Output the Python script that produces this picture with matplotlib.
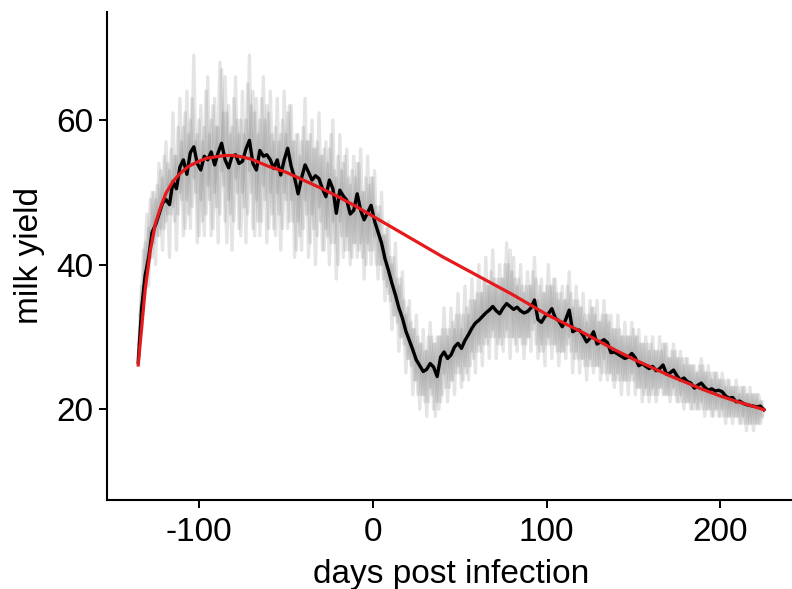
import numpy as np
import matplotlib
matplotlib.use("Agg")
import matplotlib.pyplot as plt

plt.rcParams['font.family'] = ['Liberation Sans', 'DejaVu Sans']
plt.rcParams['axes.unicode_minus'] = False

# curva ajustada (roja)
red_days = [-135, -131, -128, -125, -122, -119, -115, -111, -106, -101, -96, -91, -85,
            -80, -75, -70, -60, -50, -40, -30, -20, -10, 0, 10, 20, 30, 40, 50, 60, 70,
            80, 90, 100, 110, 120, 130, 140, 150, 160, 170, 180, 190, 200, 210, 220, 225]
red_vals = [26.1, 36.5, 42.0, 45.8, 48.0, 49.9, 51.5, 52.6, 53.6, 54.2, 54.7, 54.9, 55.1,
            55.1, 54.9, 54.6, 53.6, 52.8, 51.7, 50.6, 49.4, 48.1, 46.7, 45.3, 43.9, 42.5,
            41.1, 39.8, 38.5, 37.2, 35.9, 34.5, 33.1, 31.9, 30.7, 29.4, 28.1, 26.9, 25.8,
            24.7, 23.7, 22.7, 21.8, 21.0, 20.3, 19.9]

# media diaria (negra), dias impares -135..225
mean_days = np.arange(-135, 226, 2)
mean_vals = [26.5, 34, 38.5, 41, 44.5, 45.5, 47, 48.5, 49, 48.3,
             51.5, 50.5, 53.5, 54.5, 52.5, 55.5, 56.3, 54, 53.1, 55,
             54.5, 55.6, 53.8, 55.5, 56.8, 54.5, 53.4, 55, 55.2, 54,
             54.3, 56, 57.2, 54, 53.1, 55.8, 55, 55.2, 54.5, 53.3,
             54.5, 52.4, 54.5, 56.1, 53.6, 52, 49.8, 52, 53.8, 52.8,
             51.7, 52.3, 51.9, 50.5, 49.4, 51.7, 50.5, 47.1, 50.3, 49.5,
             48.9, 47, 47.5, 49.8, 47.5, 46.2, 47.2, 48.2, 46, 44.5,
             43, 40.8, 39.2, 37.4, 35.8, 34, 32.6, 30.8, 29.5, 28.2,
             26.8, 26, 25.2, 25.5, 26.3, 25.8, 24.5, 27.2, 27.9, 27,
             27.5, 28.6, 29.1, 28.4, 29.5, 30.3, 31.2, 31.9, 32.3, 32.8,
             33.3, 33.7, 34.2, 33.6, 33.2, 34, 34.6, 34.2, 33.8, 34.1,
             33.6, 33.3, 33.5, 34, 35.1, 32.4, 32, 32.8, 33.2, 33.9,
             32.6, 32.2, 31.4, 32.4, 33.7, 30.7, 31, 30.9, 30.2, 29.3,
             29.8, 30.7, 29, 29.3, 29.6, 29.2, 27.8, 27.9, 27.6, 27.3,
             27, 27.2, 27.7, 27.1, 26, 26.3, 25.9, 25.6, 25.9, 25.3,
             25.6, 26.1, 24.8, 25, 25.4, 24.6, 24, 24.3, 23.8, 23.6,
             22.9, 23.3, 23.6, 23, 22.6, 22.8, 22.5, 22.6, 22.4, 21.8,
             21.5, 21.6, 21, 21.1, 20.8, 20.6, 20.5, 20.4, 20.3, 20.4, 19.9]

# vacas individuales (gris)
cow_days_even = np.arange(-134, 225, 2)
cow_a = [31, 42, 39, 49, 43, 51, 45, 55, 47, 56,
         46, 59, 49, 61, 47, 63, 50, 60, 46, 64,
         49, 62, 48, 68, 51, 61, 47, 63, 50, 60,
         48, 65, 50, 61, 46, 63, 49, 61, 47, 59,
         47, 60, 49, 62, 46, 58, 44, 59, 47, 58,
         45, 57, 46, 56, 44, 58, 43, 55, 44, 55,
         42, 53, 43, 54, 41, 52, 42, 52, 40, 48,
         38, 45, 35, 41, 32, 38, 29, 34, 26, 31,
         22, 29, 21, 30, 22, 29, 20, 31, 23, 31,
         24, 33, 25, 33, 25, 35, 27, 36, 28, 38,
         29, 39, 30, 38, 29, 40, 30, 39, 29, 38,
         29, 37, 30, 39, 29, 37, 28, 37, 29, 38,
         28, 36, 28, 37, 28, 35, 27, 34, 26, 33,
         26, 33, 26, 33, 25, 32, 24, 31, 24, 30,
         24, 30, 24, 30, 23, 29, 22, 29, 22, 28,
         23, 29, 22, 28, 22, 27, 21, 27, 21, 26,
         20, 26, 20, 25, 20, 25, 20, 24, 19, 24,
         19, 23, 19, 23, 18, 22, 18, 22, 18, 21]
cow_b = [27, 37, 36, 45, 41, 49, 44, 52, 46, 53,
         48, 55, 50, 59, 49, 60, 52, 58, 49, 59,
         51, 60, 50, 59, 53, 66, 49, 59, 52, 58,
         50, 60, 53, 64, 49, 60, 51, 62, 50, 57,
         50, 58, 50, 61, 49, 57, 46, 57, 49, 57,
         47, 56, 48, 55, 45, 56, 46, 52, 46, 54,
         44, 51, 43, 54, 43, 50, 43, 52, 44, 47,
         40, 44, 36, 40, 33, 37, 30, 33, 27, 31,
         24, 29, 22, 28, 23, 29, 21, 30, 25, 30,
         24, 31, 26, 31, 26, 33, 28, 35, 29, 36,
         30, 37, 31, 37, 30, 38, 31, 42, 30, 37,
         30, 36, 30, 37, 32, 35, 29, 36, 30, 37,
         29, 35, 28, 35, 30, 34, 28, 34, 27, 32,
         27, 34, 26, 32, 27, 33, 25, 31, 25, 30,
         24, 30, 25, 30, 23, 29, 23, 28, 23, 28,
         23, 29, 22, 27, 23, 27, 22, 26, 21, 26,
         21, 25, 21, 25, 20, 24, 20, 24, 20, 23,
         19, 23, 19, 22, 19, 22, 18, 22, 18, 21, 20]
cow_c = [33, 36, 47, 41, 50, 44, 53, 45, 54, 47,
         55, 47, 57, 45, 58, 48, 57, 44, 57, 47,
         58, 45, 59, 47, 61, 43, 58, 46, 60, 44,
         58, 47, 62, 44, 58, 46, 60, 45, 58, 44,
         57, 45, 58, 46, 57, 42, 55, 45, 57, 43,
         56, 44, 55, 42, 54, 43, 53, 40, 53, 42,
         52, 41, 52, 42, 50, 40, 51, 42, 48, 40,
         44, 37, 41, 33, 38, 30, 35, 27, 32, 24,
         30, 22, 28, 21, 30, 19, 30, 22, 31, 23,
         32, 25, 33, 24, 34, 26, 35, 28, 36, 29,
         37, 30, 38, 29, 38, 30, 40, 30, 38, 30,
         37, 29, 37, 31, 38, 28, 36, 29, 37, 29,
         36, 28, 35, 29, 36, 27, 35, 27, 33, 26,
         34, 26, 32, 25, 33, 25, 31, 24, 31, 24,
         30, 24, 31, 23, 29, 22, 29, 22, 28, 22,
         28, 22, 27, 22, 28, 21, 27, 21, 26, 20,
         25, 20, 26, 20, 25, 19, 25, 19, 24, 19,
         23, 19, 23, 18, 23, 18, 22, 18, 22, 19]
cow_d = [29, 31, 43, 37, 50, 40, 54, 42, 57, 41,
         61, 42, 63, 44, 64, 45, 69, 43, 62, 44,
         66, 44, 63, 43, 67, 46, 62, 42, 66, 45,
         64, 43, 69, 45, 63, 44, 66, 43, 64, 45,
         63, 42, 64, 45, 62, 41, 58, 42, 63, 41,
         60, 40, 61, 42, 57, 40, 60, 38, 58, 41,
         56, 40, 55, 41, 56, 38, 55, 40, 53, 38,
         50, 35, 46, 31, 43, 28, 39, 25, 35, 22,
         33, 20, 31, 19, 32, 20, 30, 21, 34, 21,
         34, 22, 36, 23, 37, 24, 38, 25, 40, 26,
         41, 27, 42, 27, 40, 28, 43, 27, 41, 28,
         40, 27, 39, 28, 41, 27, 38, 26, 40, 27,
         38, 26, 37, 27, 39, 25, 37, 25, 36, 24,
         35, 25, 35, 24, 35, 24, 33, 23, 33, 22,
         32, 22, 32, 22, 31, 21, 30, 21, 30, 21,
         30, 22, 29, 21, 29, 21, 28, 20, 27, 20,
         26, 20, 27, 19, 26, 19, 25, 19, 25, 18,
         24, 18, 24, 18, 23, 17, 23, 17, 22, 18, 20]

fig = plt.figure(figsize=(7.92, 5.89), dpi=100)
ax = fig.add_axes([0.135, 0.151, 0.869, 0.829])

gris = dict(color='#7a7a7a', alpha=0.2, lw=2.4)
ax.plot(mean_days, cow_d, **gris)
ax.plot(cow_days_even, cow_a, **gris)
ax.plot(mean_days, cow_b, **gris)
ax.plot(cow_days_even, cow_c, **gris)
ax.plot(mean_days, mean_vals, color='black', lw=2.4)
ax.plot(red_days, red_vals, color='#e41a1c', lw=2.3)

ax.set_xlim(-153, 243)
ax.set_ylim(7.4, 75)
ax.set_xticks([-100, 0, 100, 200])
ax.set_yticks([20, 40, 60])
ax.spines['top'].set_visible(False)
ax.spines['right'].set_visible(False)
for s in ['left', 'bottom']:
    ax.spines[s].set_linewidth(1.5)
ax.tick_params(labelsize=24, length=6, width=1.4, colors='black')
ax.tick_params(axis='x', pad=6)
ax.tick_params(axis='y', pad=4)
ax.set_xlabel('days post infection', fontsize=24, labelpad=8)
ax.set_ylabel('milk yield', fontsize=24, labelpad=8)

fig.savefig('out.png', dpi=100)
